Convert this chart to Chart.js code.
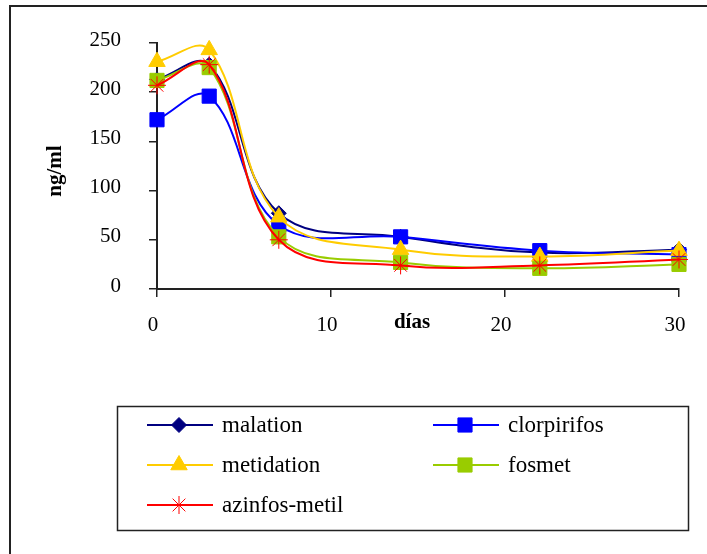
<!DOCTYPE html>
<html><head><meta charset="utf-8">
<script src="https://cdn.jsdelivr.net/npm/chart.js@4/dist/chart.umd.min.js"></script>
<style>html,body{margin:0;padding:0;background:#fff}canvas{display:block}</style>
</head><body>
<canvas id="c" width="707" height="554"></canvas>
<script>
// ---- data ----
const days = [0, 3, 7, 14, 22, 30];
const malation = [213, 228, 77, 53, 37, 40];
const clorpirifos = [172, 196, 65, 53, 39, 35];
const metidation = [231, 243, 73, 40, 33, 39];
const fosmet = [212, 225, 53, 27, 21, 25];
const azinfosMetil = [207, 228, 50, 24, 24, 30];
const seriesNames = ['malation', 'clorpirifos', 'metidation', 'fosmet', 'azinfos-metil'];
const seriesValues = [malation, clorpirifos, metidation, fosmet, azinfosMetil];
const xTitle = 'días';
const yTitle = 'ng/ml';

// ---- styles ----
const colors = ['#000080', '#0000FF', '#FFCC00', '#99CC00', '#FF0000'];
const pointStyles = ['rectRot', 'rect', 'triangle', 'rect', 'star'];
const pointRadii = [7.5, 10, 9.5, 10, 9];
const serif = '"Liberation Serif", "Times New Roman", serif';

const datasets = seriesNames.map((name, i) => ({
  label: name,
  data: days.map((d, j) => ({x: d, y: seriesValues[i][j]})),
  borderColor: colors[i],
  backgroundColor: colors[i],
  borderWidth: 2,
  pointStyle: pointStyles[i],
  pointRadius: pointRadii[i],
  pointBackgroundColor: colors[i],
  pointBorderColor: colors[i],
  pointBorderWidth: 1,
  tension: 0.38,
  fill: false,
  clip: false,
  order: seriesNames.length - i
}));

function drawMarker(ctx, style, r, color, x, y) {
  ctx.save();
  ctx.fillStyle = color; ctx.strokeStyle = color; ctx.lineWidth = 1;
  ctx.beginPath();
  if (style === 'rectRot') {
    ctx.moveTo(x - r, y); ctx.lineTo(x, y - r); ctx.lineTo(x + r, y); ctx.lineTo(x, y + r); ctx.closePath();
    ctx.fill(); ctx.stroke();
  } else if (style === 'rect') {
    const s = r * Math.SQRT1_2;
    ctx.rect(x - s, y - s, 2 * s, 2 * s); ctx.fill(); ctx.stroke();
  } else if (style === 'triangle') {
    for (let k = 0; k < 3; k++) {
      const a = k * 2 * Math.PI / 3;
      const px = x + Math.sin(a) * r, py = y - Math.cos(a) * r;
      if (k === 0) ctx.moveTo(px, py); else ctx.lineTo(px, py);
    }
    ctx.closePath(); ctx.fill(); ctx.stroke();
  } else if (style === 'star') {
    for (let k = 0; k < 4; k++) {
      const a = k * Math.PI / 4;
      ctx.moveTo(x - Math.cos(a) * r, y - Math.sin(a) * r);
      ctx.lineTo(x + Math.cos(a) * r, y + Math.sin(a) * r);
    }
    ctx.stroke();
  }
  ctx.restore();
}

const decorPlugin = {
  id: 'decor',
  afterDraw(chart) {
    const ctx = chart.ctx;
    ctx.save();
    // outer frame (only top/left visible)
    ctx.strokeStyle = '#222'; ctx.lineWidth = 2;
    ctx.strokeRect(10, 6, 760, 600);
    // legend box
    ctx.lineWidth = 1.5;
    ctx.strokeRect(117.5, 406.5, 571, 124);
    const slots = [[147, 425], [433, 425], [147, 465], [433, 465], [147, 505]];
    chart.data.datasets.forEach((ds, i) => {
      const [x0, y] = slots[i];
      ctx.strokeStyle = ds.borderColor; ctx.lineWidth = 2;
      ctx.beginPath(); ctx.moveTo(x0, y); ctx.lineTo(x0 + 66, y); ctx.stroke();
      drawMarker(ctx, ds.pointStyle, ds.pointRadius, ds.borderColor, x0 + 32, y);
      ctx.fillStyle = '#000';
      ctx.font = '23px ' + serif;
      ctx.textBaseline = 'middle'; ctx.textAlign = 'left';
      ctx.fillText(ds.label, x0 + 75, y + 1);
    });
    // axis titles
    ctx.fillStyle = '#000';
    ctx.font = 'bold 21px ' + serif;
    ctx.textAlign = 'center'; ctx.textBaseline = 'middle';
    ctx.fillText(xTitle, 412, 323);
    ctx.translate(56, 171); ctx.rotate(-Math.PI / 2);
    ctx.fillText(yTitle, 0, 0);
    ctx.restore();
  }
};

new Chart(document.getElementById('c'), {
  type: 'line',
  data: {datasets},
  plugins: [decorPlugin],
  options: {
    responsive: false,
    animation: false,
    devicePixelRatio: 1,
    layout: {padding: {top: 43, right: 28, bottom: 0, left: 0}},
    elements: {line: {capBezierPoints: false}},
    plugins: {legend: {display: false}, tooltip: {enabled: false}},
    scales: {
      x: {
        type: 'linear', min: 0, max: 30,
        ticks: {stepSize: 10, color: '#000', font: {family: serif, size: 21}, padding: 16, labelOffset: -4, maxRotation: 0},
        grid: {drawOnChartArea: false, drawTicks: true, tickLength: 8, color: '#222', lineWidth: 1.5},
        border: {color: '#222', width: 2},
        afterFit(scale) { scale.height = 265; }
      },
      y: {
        type: 'linear', min: 0, max: 250,
        ticks: {stepSize: 50, color: '#000', font: {family: serif, size: 21}, padding: 28, labelOffset: -3},
        grid: {drawOnChartArea: false, drawTicks: true, tickLength: 8, color: '#222', lineWidth: 1.5},
        border: {color: '#222', width: 2},
        afterFit(scale) { scale.width = 157; }
      }
    }
  }
});
</script>
</body></html>
